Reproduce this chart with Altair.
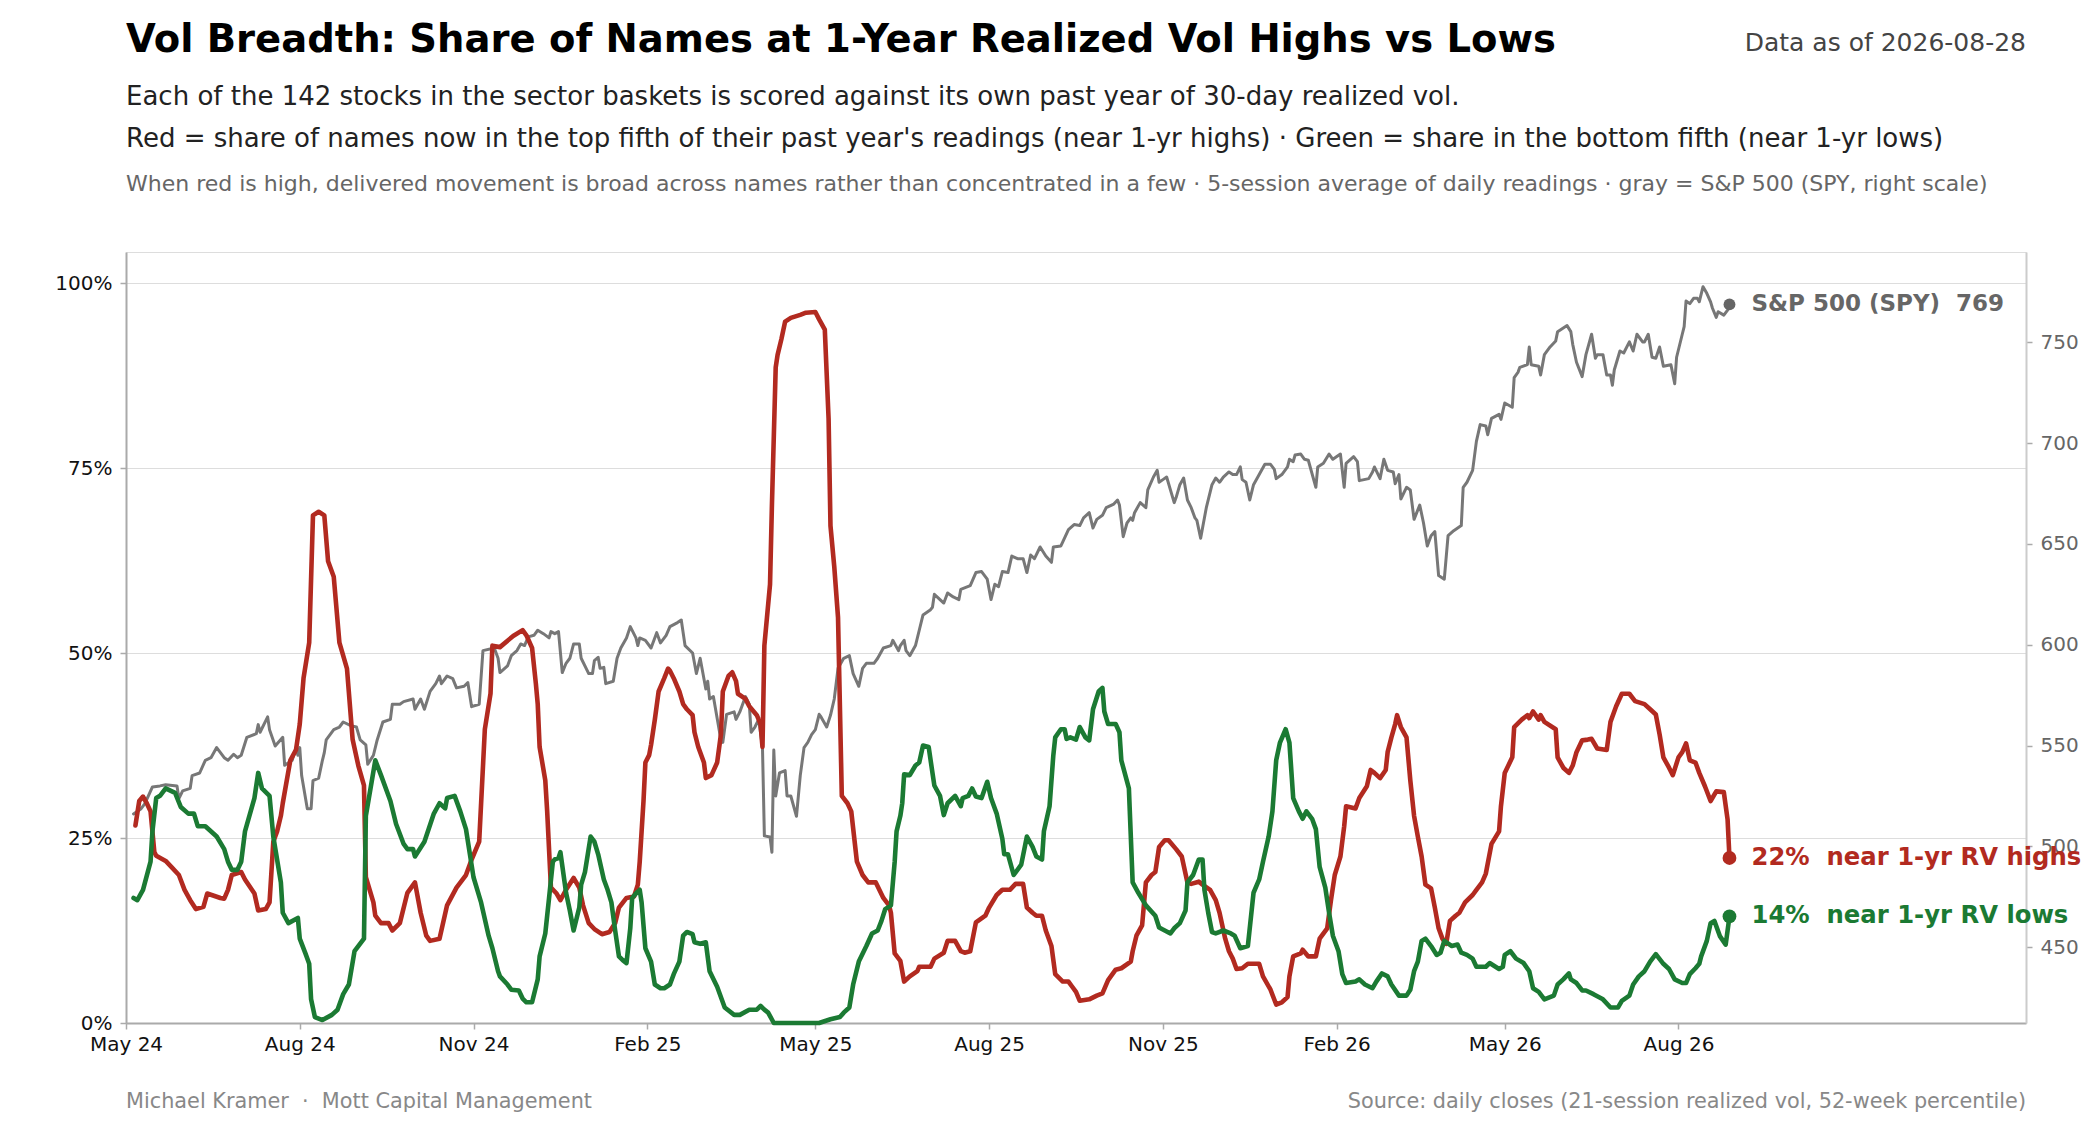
import altair as alt
import pandas as pd

START = "2024-05-01"  # day offsets below are counted from this date

# ---- Red: share of names near 1-yr realized-vol highs (%, 5-session avg) ----
red_day = [5, 7, 9, 11, 13, 15, 16, 21, 24, 28,
           31, 34, 37, 41, 43, 50, 52, 54, 56, 61,
           63, 68, 70, 74, 76, 78, 80, 82, 83, 87,
           90, 92, 94, 97, 99, 102, 105, 107, 110, 113,
           117, 120, 123, 126, 127, 131, 132, 135, 139, 141,
           145, 149, 153, 156, 159, 161, 166, 170, 175, 180,
           183, 187, 190, 193, 194, 198, 205, 210, 212, 215,
           217, 218, 219, 222, 223, 225, 228, 230, 233, 237,
           240, 242, 245, 248, 252, 256, 259, 261, 265, 269,
           271, 272, 274, 275, 277, 278, 280, 282, 285, 287,
           288, 290, 293, 295, 297, 300, 301, 303, 306, 307,
           310, 313, 315, 316, 319, 321, 323, 324, 328, 330,
           334, 336, 337, 338, 341, 342, 344, 345, 347, 349,
           352, 357, 360, 365, 367, 370, 372, 373, 375, 377,
           379, 382, 384, 387, 390, 393, 397, 401, 404, 405,
           407, 410, 412, 415, 419, 420, 426, 428, 433, 435,
           439, 442, 444, 447, 450, 455, 457, 461, 464, 468,
           471, 475, 477, 480, 482, 485, 487, 490, 492, 496,
           499, 501, 503, 505, 510, 514, 517, 520, 524, 527,
           532, 533, 535, 538, 540, 543, 545, 547, 550, 552,
           556, 559, 562, 564, 568, 570, 574, 577, 579, 582,
           584, 586, 588, 591, 594, 600, 602, 606, 609, 612,
           615, 616, 618, 622, 623, 626, 630, 632, 636, 638,
           640, 643, 645, 646, 651, 653, 657, 659, 661, 664,
           667, 668, 670, 672, 673, 675, 678, 680, 682, 684,
           686, 688, 691, 693, 695, 697, 699, 701, 704, 706,
           709, 713, 715, 718, 720, 723, 727, 728, 730, 734,
           735, 739, 742, 743, 745, 748, 749, 751, 757, 758,
           761, 764, 766, 768, 771, 774, 776, 779, 784, 786,
           789, 792, 796, 799, 804, 807, 810, 812, 814, 817,
           819, 822, 824, 826, 828, 831, 833, 836, 839, 842,
           846, 848, 849]
red_pct = [26.7, 30.0, 30.6, 29.7, 28.6, 23.1, 22.6, 21.9, 21.1, 20.0,
           18.0, 16.6, 15.4, 15.7, 17.5, 16.9, 16.8, 18.0, 20.0, 20.4,
           19.4, 17.5, 15.2, 15.4, 16.3, 24.5, 25.9, 28.0, 29.7, 35.5,
           36.9, 40.4, 46.6, 51.4, 68.6, 69.1, 68.6, 62.4, 60.3, 51.4,
           47.9, 38.3, 34.8, 32.1, 19.7, 16.3, 14.5, 13.5, 13.5, 12.5,
           13.5, 17.6, 19.0, 14.9, 11.8, 11.1, 11.4, 15.9, 18.3, 20.0,
           22.1, 24.5, 39.7, 44.5, 51.0, 50.8, 52.3, 53.1, 52.4, 50.7,
           45.9, 43.1, 37.3, 32.8, 28.6, 18.3, 17.5, 16.6, 18.0, 19.6,
           18.3, 15.9, 13.5, 12.7, 12.0, 12.3, 13.5, 15.6, 16.9, 17.1,
           18.7, 21.8, 30.0, 35.2, 36.2, 37.6, 41.0, 44.8, 46.6, 47.9,
           47.6, 46.6, 44.8, 43.1, 42.4, 41.6, 39.3, 37.3, 35.2, 33.1,
           33.5, 35.2, 39.0, 44.8, 46.9, 47.4, 46.2, 44.5, 43.8, 42.8,
           41.6, 40.4, 37.3, 51.0, 59.3, 70.0, 88.6, 90.3, 92.4, 94.8,
           95.3, 95.7, 96.0, 96.1, 95.1, 93.7, 81.7, 67.2, 61.7, 54.8,
           30.7, 29.7, 28.6, 21.8, 20.0, 19.0, 19.0, 16.9, 15.9, 14.9,
           9.4, 8.4, 5.6, 6.3, 7.0, 7.6, 7.6, 8.7, 9.5, 11.1,
           11.1, 9.7, 9.5, 9.7, 13.6, 14.5, 15.6, 17.3, 18.0, 18.0,
           18.8, 18.8, 15.6, 14.9, 14.5, 14.5, 12.5, 10.4, 6.6, 5.6,
           5.6, 4.9, 4.2, 3.0, 3.2, 3.7, 4.0, 5.8, 7.2, 7.4,
           8.3, 9.7, 11.8, 13.2, 19.0, 20.0, 20.4, 23.8, 24.7, 24.7,
           23.5, 22.5, 19.0, 18.8, 19.1, 18.7, 18.0, 16.6, 14.9, 11.4,
           9.7, 8.7, 7.3, 7.4, 8.0, 8.0, 6.3, 4.5, 2.5, 2.8,
           3.5, 6.3, 9.0, 9.4, 9.9, 9.0, 9.0, 11.4, 12.8, 16.6,
           20.0, 22.5, 26.6, 29.3, 29.0, 30.4, 32.0, 34.2, 33.8, 33.1,
           34.2, 36.6, 38.6, 40.4, 41.6, 40.0, 38.6, 32.8, 28.0, 25.2,
           22.5, 18.7, 18.2, 15.6, 12.8, 11.4, 10.7, 13.8, 14.5, 14.9,
           16.3, 17.3, 18.0, 19.0, 20.2, 24.2, 25.9, 29.3, 33.8, 35.9,
           40.0, 41.0, 41.6, 41.2, 42.1, 41.0, 41.6, 40.7, 39.7, 35.9,
           34.5, 33.8, 34.8, 36.6, 38.2, 38.3, 38.4, 37.1, 36.9, 40.7,
           42.8, 44.5, 44.5, 43.5, 43.1, 42.4, 41.7, 39.0, 35.9, 34.5,
           33.5, 35.9, 36.6, 37.8, 35.5, 35.2, 33.8, 32.0, 30.0, 31.3,
           31.2, 27.5, 22.3]

# ---- Green: share of names near 1-yr realized-vol lows (%) ----
green_day = [4, 6, 9, 13, 14, 16, 18, 21, 26, 29,
             33, 36, 38, 42, 48, 52, 54, 56, 59, 61,
             63, 68, 70, 72, 76, 78, 82, 83, 86, 91,
             92, 95, 97, 98, 100, 104, 109, 112, 115, 118,
             121, 126, 127, 132, 135, 140, 143, 147, 149, 152,
             153, 158, 163, 166, 169, 170, 174, 177, 180, 184,
             188, 192, 194, 197, 198, 202, 204, 208, 210, 212,
             215, 218, 219, 222, 224, 226, 227, 229, 230, 233,
             235, 237, 240, 241, 243, 246, 248, 250, 253, 255,
             257, 259, 261, 263, 265, 267, 268, 270, 272, 273,
             275, 278, 280, 283, 285, 288, 290, 293, 295, 297,
             300, 301, 304, 307, 309, 313, 317, 322, 325, 330,
             334, 336, 338, 340, 343, 367, 373, 378, 380, 383,
             385, 388, 392, 395, 398, 400, 402, 405, 407, 408,
             410, 411, 412, 415, 418, 420, 422, 425, 427, 428,
             431, 433, 435, 439, 442, 443, 446, 448, 450, 453,
             456, 458, 461, 464, 465, 467, 470, 474, 477, 480,
             482, 485, 486, 489, 491, 492, 495, 497, 498, 500,
             503, 505, 508, 510, 512, 515, 517, 518, 520, 524,
             526, 527, 531, 533, 536, 540, 545, 547, 550, 553,
             555, 558, 561, 562, 565, 568, 570, 571, 573, 575,
             577, 581, 585, 587, 590, 594, 597, 600, 602, 605,
             607, 609, 611, 614, 616, 618, 621, 623, 625, 628,
             630, 632, 635, 637, 639, 642, 644, 646, 651, 653,
             656, 660, 662, 665, 668, 670, 674, 678, 680, 682,
             684, 686, 688, 691, 694, 696, 698, 702, 705, 707,
             710, 713, 715, 720, 722, 727, 729, 730, 733, 736,
             740, 743, 745, 748, 751, 756, 758, 761, 764, 765,
             768, 771, 773, 777, 782, 786, 790, 792, 796, 798,
             801, 804, 807, 810, 814, 817, 820, 824, 826, 828,
             831, 833, 834, 837, 839, 841, 844, 847, 849]
green_pct = [16.9, 16.6, 18.0, 21.8, 25.9, 30.4, 30.7, 31.7, 31.1, 29.2,
             28.3, 28.3, 26.6, 26.6, 25.2, 23.5, 21.8, 20.7, 20.7, 21.8,
             25.9, 30.4, 33.8, 31.7, 30.7, 25.2, 19.0, 14.9, 13.5, 14.2,
             11.4, 9.4, 8.0, 3.2, 0.8, 0.4, 1.1, 1.8, 3.9, 5.2,
             9.7, 11.4, 28.0, 35.5, 33.5, 30.0, 26.9, 24.2, 23.5, 23.5,
             22.5, 24.5, 28.3, 29.7, 29.0, 30.4, 30.7, 28.6, 26.2, 19.7,
             16.3, 11.8, 10.1, 7.0, 6.3, 5.2, 4.5, 4.4, 3.3, 2.8,
             2.8, 5.9, 9.0, 12.1, 16.9, 21.8, 22.1, 22.3, 23.1, 17.6,
             15.2, 12.5, 15.6, 18.7, 20.4, 25.2, 24.5, 22.8, 19.4, 18.0,
             16.3, 12.5, 9.0, 8.5, 8.1, 12.8, 16.9, 17.5, 18.0, 16.3,
             10.1, 8.3, 5.2, 4.7, 4.7, 5.2, 6.6, 8.3, 11.8, 12.3,
             12.0, 10.9, 10.7, 10.9, 7.0, 4.9, 2.1, 1.1, 1.1, 1.8,
             1.8, 2.3, 1.8, 1.4, 0.0, 0.0, 0.5, 0.8, 1.4, 2.1,
             5.2, 8.3, 10.4, 12.1, 12.5, 13.8, 15.4, 15.9, 21.8, 25.9,
             28.0, 29.7, 33.6, 33.5, 34.8, 35.2, 37.5, 37.3, 33.8, 32.1,
             30.7, 28.1, 29.7, 30.7, 29.3, 30.4, 30.7, 31.7, 30.6, 30.4,
             32.6, 30.4, 28.3, 24.9, 22.8, 22.8, 20.0, 21.4, 25.2, 23.8,
             22.5, 22.1, 25.9, 29.3, 36.2, 38.6, 39.7, 39.7, 38.4, 38.6,
             38.3, 40.0, 38.6, 38.2, 42.4, 44.8, 45.3, 42.1, 40.4, 40.4,
             39.3, 35.5, 31.7, 19.0, 17.6, 15.9, 14.5, 12.9, 12.5, 12.1,
             12.8, 13.5, 15.2, 19.0, 20.0, 22.1, 22.1, 18.0, 14.9, 12.3,
             12.1, 12.5, 12.1, 11.8, 10.1, 10.4, 17.6, 19.4, 21.8, 25.2,
             28.6, 35.5, 37.9, 39.7, 37.9, 30.4, 28.6, 27.6, 28.6, 27.6,
             26.2, 21.1, 18.3, 14.9, 11.8, 9.7, 6.6, 5.4, 5.6, 5.9,
             5.2, 4.7, 5.6, 6.7, 6.3, 5.2, 3.7, 3.7, 4.5, 7.0,
             8.3, 11.1, 11.4, 10.4, 9.2, 9.5, 11.1, 10.4, 10.6, 9.5,
             9.2, 8.7, 7.6, 7.6, 8.1, 7.3, 7.6, 9.2, 9.7, 8.7,
             8.1, 7.0, 4.7, 4.2, 3.2, 3.7, 5.2, 5.9, 6.7, 5.9,
             5.4, 4.4, 4.4, 3.9, 3.2, 2.1, 2.1, 3.0, 3.7, 5.2,
             6.3, 7.0, 8.3, 9.3, 8.0, 7.3, 5.9, 5.4, 5.4, 6.6,
             7.4, 8.0, 9.0, 11.1, 13.5, 13.8, 11.7, 10.6, 14.4]

# ---- Gray: S&P 500 (SPY) close, right scale ----
spy_day = [4, 8, 10, 14, 18, 21, 27, 28, 30, 34,
           35, 39, 42, 45, 48, 52, 54, 57, 59, 61,
           64, 69, 70, 71, 75, 76, 79, 83, 84, 88,
           90, 91, 92, 93, 96, 98, 99, 102, 104, 105,
           106, 110, 113, 115, 119, 122, 124, 127, 128, 131,
           133, 136, 140, 141, 145, 147, 152, 153, 156, 158,
           161, 164, 166, 167, 170, 173, 175, 179, 181, 183,
           187, 189, 195, 197, 198, 202, 204, 207, 209, 211,
           213, 216, 218, 221, 224, 225, 227, 229, 231, 233,
           235, 237, 240, 241, 245, 247, 248, 250, 251, 253,
           254, 258, 260, 262, 265, 267, 270, 271, 272, 275,
           278, 281, 283, 286, 288, 292, 294, 296, 300, 302,
           304, 307, 308, 309, 311, 315, 316, 318, 322, 323,
           325, 328, 330, 331, 333, 335, 337, 338, 341, 342,
           343, 344, 346, 349, 350, 352, 355, 357, 359, 361,
           363, 365, 367, 368, 371, 373, 375, 377, 380, 383,
           385, 388, 390, 392, 396, 398, 401, 405, 406, 409,
           410, 412, 413, 415, 418, 420, 422, 426, 427, 428,
           433, 435, 438, 441, 442, 447, 450, 453, 456, 458,
           460, 462, 464, 467, 469, 472, 475, 477, 479, 481,
           484, 487, 490, 491, 495, 496, 499, 502, 505, 507,
           510, 512, 514, 517, 519, 523, 525, 526, 528, 530,
           532, 533, 534, 537, 540, 541, 544, 546, 547, 549,
           551, 553, 555, 556, 558, 560, 562, 564, 566, 567,
           569, 570, 572, 575, 577, 579, 581, 584, 586, 588,
           590, 591, 593, 595, 597, 600, 603, 606, 608, 609,
           612, 615, 616, 618, 619, 622, 624, 626, 630, 631,
           634, 637, 639, 643, 645, 646, 650, 652, 653, 658,
           660, 661, 664, 666, 668, 671, 672, 674, 675, 678,
           680, 682, 685, 687, 689, 691, 693, 695, 698, 700,
           703, 707, 708, 710, 713, 715, 717, 720, 721, 723,
           727, 728, 730, 734, 735, 737, 738, 742, 743, 744,
           748, 749, 751, 754, 757, 758, 763, 765, 766, 768,
           771, 773, 776, 778, 779, 782, 784, 786, 787, 788,
           791, 793, 796, 798, 800, 803, 804, 806, 808, 810,
           812, 814, 818, 820, 821, 824, 825, 826, 828, 830,
           832, 833, 835, 837, 839, 840, 842, 843, 846, 848,
           849]
spy_close = [516.1, 518.7, 521.2, 529.5, 530.0, 530.6, 530.0, 523.7, 527.5, 528.8,
             535.1, 536.4, 542.7, 544.0, 549.0, 544.0, 542.7, 545.7, 544.0, 545.2,
             554.1, 555.9, 560.4, 556.6, 564.2, 557.9, 549.8, 554.1, 540.2, 542.7,
             549.0, 545.2, 549.0, 535.1, 518.7, 518.7, 532.6, 533.8, 542.7, 546.5,
             552.8, 557.9, 559.2, 561.7, 559.9, 559.2, 552.8, 550.3, 540.7, 545.2,
             552.8, 561.7, 563.0, 570.5, 570.5, 571.8, 573.1, 568.0, 573.1, 568.0,
             576.9, 580.7, 584.5, 580.7, 584.5, 583.2, 578.6, 579.4, 581.2, 569.3,
             570.5, 597.1, 598.4, 593.3, 586.2, 589.5, 594.6, 597.1, 600.4, 599.6,
             603.9, 604.7, 607.2, 605.5, 603.4, 606.5, 605.5, 606.5, 586.2, 590.8,
             593.3, 600.4, 600.4, 593.3, 585.7, 585.7, 592.1, 593.8, 588.3, 588.8,
             580.7, 581.9, 593.3, 598.4, 603.4, 609.0, 603.4, 599.6, 603.4, 602.2,
             598.4, 606.0, 600.9, 604.7, 609.0, 611.0, 612.3, 599.6, 595.9, 585.7,
             593.3, 578.1, 581.9, 573.1, 574.3, 552.8, 551.6, 565.5, 566.7, 563.0,
             566.7, 574.3, 570.5, 556.6, 559.2, 563.0, 549.0, 505.2, 504.7, 497.1,
             547.8, 525.0, 536.4, 537.6, 525.0, 525.0, 514.9, 535.1, 549.0, 551.6,
             555.4, 557.9, 565.5, 564.2, 559.2, 565.0, 573.1, 588.3, 593.3, 594.6,
             585.7, 579.4, 588.3, 590.8, 590.8, 593.3, 598.4, 599.6, 602.2, 597.1,
             599.6, 602.2, 597.1, 594.6, 599.6, 607.2, 614.8, 617.4, 618.6, 625.0,
             620.7, 625.7, 623.7, 622.4, 627.5, 629.3, 635.8, 636.3, 632.5, 622.4,
             630.0, 628.8, 636.3, 635.8, 644.0, 642.7, 642.7, 635.8, 644.5, 642.7,
             648.5, 644.0, 640.9, 648.5, 649.0, 651.0, 657.1, 659.6, 659.1, 662.9,
             665.5, 657.9, 662.2, 664.2, 668.0, 669.8, 671.8, 669.3, 653.6, 660.4,
             662.9, 661.7, 665.5, 670.5, 668.0, 676.8, 683.2, 686.5, 680.6, 681.9,
             683.2, 676.8, 670.5, 673.0, 679.4, 682.7, 671.8, 668.0, 662.9, 661.7,
             652.8, 657.9, 668.0, 679.4, 682.7, 680.6, 683.2, 685.7, 684.4, 684.4,
             688.2, 681.9, 680.6, 671.8, 679.4, 684.4, 689.5, 689.5, 687.0, 682.4,
             684.4, 688.2, 692.0, 690.8, 694.1, 694.6, 692.0, 691.5, 678.1, 688.2,
             690.0, 694.6, 692.0, 694.6, 678.1, 690.0, 693.3, 690.8, 681.4, 682.4,
             685.7, 688.2, 682.4, 692.0, 686.5, 685.7, 679.9, 684.4, 672.3, 678.1,
             676.8, 662.2, 669.3, 660.4, 649.0, 654.1, 656.1, 634.3, 632.5, 654.1,
             656.6, 659.1, 678.1, 680.6, 686.5, 700.9, 709.2, 708.5, 704.2, 712.3,
             714.3, 711.8, 719.9, 717.8, 732.5, 735.1, 737.6, 738.9, 747.7, 738.9,
             738.1, 733.8, 743.9, 747.7, 750.7, 755.3, 758.3, 755.3, 749.0, 740.1,
             733.0, 743.9, 754.0, 742.1, 743.9, 743.9, 733.8, 733.8, 728.7, 736.3,
             745.7, 744.7, 750.2, 745.7, 754.0, 750.2, 750.2, 754.0, 742.6, 742.1,
             747.7, 738.1, 738.9, 729.5, 742.6, 754.0, 757.8, 770.5, 769.2, 771.8,
             771.8, 770.1, 777.6, 774.3, 770.1, 766.9, 762.4, 765.2, 763.5, 766.0,
             768.8]

assert len(red_day) == len(red_pct)
assert len(green_day) == len(green_pct)
assert len(spy_day) == len(spy_close)

# ---- axis ticks / text ----
x_tick_months = [(2024, 5), (2024, 8), (2024, 11), (2025, 2), (2025, 5), (2025, 8),
                 (2025, 11), (2026, 2), (2026, 5), (2026, 8)]
pct_ticks = [0, 0.25, 0.5, 0.75, 1.0]
spy_ticks = [450, 500, 550, 600, 650, 700, 750]

TITLE = "Vol Breadth: Share of Names at 1-Year Realized Vol Highs vs Lows"
SUB1 = "Each of the 142 stocks in the sector baskets is scored against its own past year of 30-day realized vol."
SUB2 = ("Red = share of names now in the top fifth of their past year's readings (near 1-yr highs) "
        "\u00b7 Green = share in the bottom fifth (near 1-yr lows)")
NOTE = ("When red is high, delivered movement is broad across names rather than concentrated in a few "
        "\u00b7 5-session average of daily readings \u00b7 gray = S&P 500 (SPY, right scale)")
ASOF = "Data as of 2026-08-28"
FOOT_L = "Michael Kramer \u00a0\u00b7\u00a0 Mott Capital Management"
FOOT_R = "Source: daily closes (21-session realized vol, 52-week percentile)"

RED = "#b22a20"
GREEN = "#1b7a33"
GRAY_LINE = "#777777"
GRAY_LBL = "#666666"
FONT = "DejaVu Sans"

W, H = 1900, 771

base = pd.Timestamp(START)


def frame(days, vals, name):
    return pd.DataFrame({"date": base + pd.to_timedelta(days, unit="D"), name: vals})


red_df = frame(red_day, [v / 100 for v in red_pct], "pct")
green_df = frame(green_day, [v / 100 for v in green_pct], "pct")
spy_df = frame(spy_day, spy_close, "close")

red_last = red_df.tail(1).assign(label=f"{round(red_pct[-1])}%\u00a0\u00a0near 1-yr RV highs")
green_last = green_df.tail(1).assign(label=f"{round(green_pct[-1])}%\u00a0\u00a0near 1-yr RV lows")
spy_last = spy_df.tail(1).assign(label=f"S&P 500 (SPY)\u00a0\u00a0{round(spy_close[-1])}")

x_enc = alt.X(
    "date:T",
    scale=alt.Scale(domain=[alt.DateTime(year=2024, month=5, date=1),
                            alt.DateTime(year=2027, month=2, date=1)]),
    axis=alt.Axis(values=[alt.DateTime(year=y, month=m, date=1) for y, m in x_tick_months],
                  format="%b %y", title=None, grid=False, labelFlush=False,
                  labelFontSize=20, labelColor="#111111", labelFont=FONT,
                  tickColor="#aaaaaa", tickSize=6, tickWidth=1.5,
                  domainColor="#aaaaaa", domainWidth=2, labelPadding=5),
)

y_pct = alt.Y(
    "pct:Q",
    scale=alt.Scale(domain=[0, 1.042], nice=False, zero=False),
    axis=alt.Axis(orient="left", values=pct_ticks, format=".0%", title=None,
                  labelFontSize=20, labelColor="#111111", labelFont=FONT,
                  grid=True, gridColor="#dddddd", gridWidth=1.2,
                  tickColor="#aaaaaa", tickSize=6, tickWidth=1.5,
                  domainColor="#aaaaaa", domainWidth=2, labelPadding=8),
)

y_spy = alt.Y(
    "close:Q",
    scale=alt.Scale(domain=[412.4, 794.8], nice=False, zero=False),
    axis=alt.Axis(orient="right", values=spy_ticks, title=None, grid=False,
                  labelFontSize=20, labelColor=GRAY_LBL, labelFont=FONT,
                  tickColor="#aaaaaa", tickSize=6, tickWidth=1.5,
                  domainColor="#cccccc", domainWidth=2, labelPadding=8),
)

line_style = dict(strokeJoin="round", strokeCap="round")

spy_line = alt.Chart(spy_df).mark_line(color=GRAY_LINE, strokeWidth=3.0, **line_style).encode(x=x_enc, y=y_spy)
spy_pt = alt.Chart(spy_last).mark_circle(color=GRAY_LBL, size=140, opacity=1).encode(x=x_enc, y=y_spy)
spy_lbl = alt.Chart(spy_last).mark_text(
    align="left", baseline="middle", dx=22, font=FONT, fontWeight="bold", fontSize=23, color=GRAY_LBL
).encode(x=x_enc, y=y_spy, text="label:N")

red_line = alt.Chart(red_df).mark_line(color=RED, strokeWidth=4.6, **line_style).encode(x=x_enc, y=y_pct)
green_line = alt.Chart(green_df).mark_line(color=GREEN, strokeWidth=4.6, **line_style).encode(x=x_enc, y=y_pct)
red_pt = alt.Chart(red_last).mark_circle(color=RED, size=190, opacity=1).encode(x=x_enc, y=y_pct)
green_pt = alt.Chart(green_last).mark_circle(color=GREEN, size=190, opacity=1).encode(x=x_enc, y=y_pct)
red_lbl = alt.Chart(red_last).mark_text(
    align="left", baseline="middle", dx=22, font=FONT, fontWeight="bold", fontSize=24.3, color=RED
).encode(x=x_enc, y=y_pct, text="label:N")
green_lbl = alt.Chart(green_last).mark_text(
    align="left", baseline="middle", dx=22, font=FONT, fontWeight="bold", fontSize=24.3, color=GREEN
).encode(x=x_enc, y=y_pct, text="label:N")

spy_layer = alt.layer(spy_line, spy_pt, spy_lbl)
pct_layer = alt.layer(red_line, green_line, red_pt, green_pt, red_lbl, green_lbl)


def note(text, x, y, size, color, weight="normal", align="left"):
    return alt.Chart(pd.DataFrame({"t": [text]})).mark_text(
        align=align, baseline="alphabetic", font=FONT, fontSize=size,
        fontWeight=weight, color=color
    ).encode(text="t:N", x=alt.value(x), y=alt.value(y))


texts = [
    note(TITLE, 0, -200, 38.5, "#000000", weight="bold"),
    note(ASOF, W, -201, 25, "#444444", align="right"),
    note(SUB1, 0, -147, 26, "#222222"),
    note(SUB2, 0, -105, 26, "#222222"),
    note(NOTE, 0, -61, 22, "#666666"),
    note(FOOT_L, 0, 856, 20.8, "#888888"),
    note(FOOT_R, W, 856, 20.8, "#888888", align="right"),
]

chart = alt.layer(spy_layer, pct_layer, *texts).resolve_scale(y="independent").properties(
    width=W, height=H,
    autosize=alt.AutoSizeParams(type="none"),
    padding={"left": 118, "top": 244, "right": 66, "bottom": 92},
).configure_view(stroke=None).configure(font=FONT)

chart.save("out.html", embed_options={"renderer": "svg", "actions": False})
